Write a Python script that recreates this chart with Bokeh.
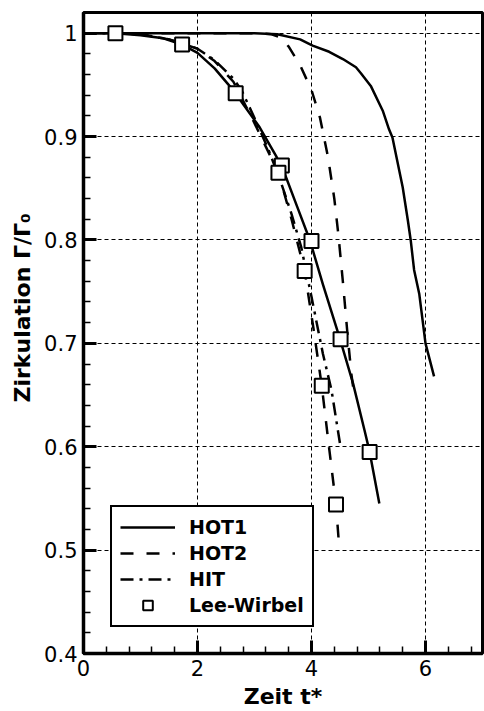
from bokeh.plotting import figure
from bokeh.models import FixedTicker, Range1d, Legend, LegendItem, Title
from bokeh.embed import file_html
from bokeh.resources import INLINE

# ---- data ----
hot1_x = [0, 0.56, 1.0, 1.4, 1.73, 2.0, 2.3, 2.67, 2.78, 3.09, 3.39, 3.53, 3.75, 3.97, 4.2, 4.49, 4.73, 4.93, 5.02, 5.19]
hot1_y = [1.0, 1.0, 0.998, 0.995, 0.989, 0.981, 0.966, 0.942, 0.933, 0.909, 0.880, 0.864, 0.832, 0.800, 0.757, 0.706, 0.661, 0.616, 0.595, 0.545]

hot1b_x = [0, 1.0, 2.0, 3.0, 3.4, 3.8, 4.02, 4.31, 4.55, 4.78, 4.87, 5.04, 5.25, 5.36, 5.42, 5.6, 5.69, 5.74, 5.80, 5.89, 6.0, 6.15]
hot1b_y = [1.0, 1.0, 1.0, 1.0, 0.999, 0.994, 0.988, 0.982, 0.975, 0.967, 0.961, 0.949, 0.925, 0.907, 0.899, 0.851, 0.819, 0.800, 0.771, 0.748, 0.700, 0.668]

hot2_x = [0, 1.0, 2.0, 3.0, 3.3, 3.45, 3.6, 3.8, 4.0, 4.15, 4.29, 4.4, 4.47, 4.55, 4.63, 4.7, 4.75]
hot2_y = [1.0, 1.0, 1.0, 1.0, 0.999, 0.996, 0.987, 0.969, 0.945, 0.918, 0.880, 0.840, 0.806, 0.760, 0.710, 0.670, 0.650]

hot2b_x = [0, 0.56, 1.0, 1.5, 2.0, 2.3, 2.63, 3.0, 3.2, 3.42, 3.65, 3.88, 4.03, 4.18, 4.3, 4.43, 4.49]
hot2b_y = [1.0, 1.0, 0.999, 0.994, 0.985, 0.973, 0.953, 0.913, 0.890, 0.865, 0.820, 0.770, 0.716, 0.659, 0.603, 0.544, 0.500]

hit_x = [0, 0.56, 1.0, 1.5, 2.0, 2.3, 2.63, 2.78, 3.0, 3.24, 3.45, 3.65, 3.82, 4.0, 4.2, 4.35, 4.5]
hit_y = [1.0, 1.0, 0.999, 0.994, 0.985, 0.974, 0.956, 0.944, 0.918, 0.888, 0.858, 0.825, 0.793, 0.745, 0.690, 0.655, 0.603]

lee_x = [0.56, 1.73, 2.67, 3.48, 3.42, 4.0, 3.88, 4.51, 4.18, 5.02, 4.43]
lee_y = [1.0, 0.989, 0.942, 0.872, 0.865, 0.799, 0.770, 0.704, 0.659, 0.595, 0.544]

x_major = [0, 2, 4, 6]
y_major = [0.4, 0.5, 0.6, 0.7, 0.8, 0.9, 1.0]
y_labels = {0.4: "0.4", 0.5: "0.5", 0.6: "0.6", 0.7: "0.7", 0.8: "0.8", 0.9: "0.9", 1.0: "1"}
legend_labels = ["HOT1", "HOT2", "HIT", "Lee-Wirbel"]
y_title = "Zirkulation  \u0393/\u0393\u2080"
x_title = "Zeit t*"

x_minor = [round(i * 0.4, 2) for i in range(0, 18)]
y_minor = [round(0.4 + i * 0.02, 3) for i in range(0, 32)]

SANS = "DejaVu Sans"

# ---- figure ----
p = figure(width=484, height=711, output_backend="svg", toolbar_location=None,
           x_range=Range1d(0, 7), y_range=Range1d(0.4, 1.02),
           min_border_left=83, min_border_right=2, min_border_top=12, min_border_bottom=57)
p.background_fill_color = "white"
p.border_fill_color = "white"
p.outline_line_color = "black"
p.outline_line_width = 3
p.outline_line_alpha = 1

for ax, maj, mnr in ((p.xaxis[0], x_major, x_minor), (p.yaxis[0], y_major, y_minor)):
    ax.ticker = FixedTicker(ticks=maj, minor_ticks=mnr)
    ax.axis_line_width = 3.5
    ax.axis_line_color = "black"
    ax.major_tick_in = 13
    ax.major_tick_out = 0
    ax.minor_tick_in = 7
    ax.minor_tick_out = 0
    ax.major_tick_line_width = 3
    ax.minor_tick_line_width = 1.5
    ax.major_tick_line_color = "black"
    ax.minor_tick_line_color = "black"
    ax.major_label_text_font = SANS
    ax.major_label_text_font_size = "21px"
    ax.major_label_text_color = "black"
    ax.major_label_standoff = 6

p.yaxis[0].major_label_overrides = y_labels
p.yaxis[0].axis_label = None
p.xaxis[0].axis_label = x_title
p.xaxis[0].axis_label_text_font = SANS
p.xaxis[0].axis_label_text_font_style = "bold"
p.xaxis[0].axis_label_text_font_size = "22px"
p.xaxis[0].axis_label_text_color = "black"
p.xaxis[0].axis_label_standoff = 5

# y label as a left-side title, anchored at its start (bottom end)
p.add_layout(Title(text=y_title, align="left", offset=251, standoff=14,
                   text_font=SANS, text_font_style="bold", text_font_size="22px",
                   text_color="black"), "left")

for g in (p.xgrid[0], p.ygrid[0]):
    g.grid_line_color = "black"
    g.grid_line_width = 1
    g.grid_line_dash = "4 3"

# ---- curves ----
r_hot1 = p.line(hot1_x, hot1_y, line_color="black", line_width=2.5, line_join="round")
p.line(hot1b_x, hot1b_y, line_color="black", line_width=2.5, line_join="round")
r_hot2 = p.line(hot2_x, hot2_y, line_color="black", line_width=2.5, line_dash="13 13")
p.line(hot2b_x, hot2b_y, line_color="black", line_width=2.5, line_dash="13 13")
r_hit = p.line(hit_x, hit_y, line_color="black", line_width=2.5, line_dash="13 6 3 6")
r_lee = p.scatter(lee_x, lee_y, marker="square", size=14, fill_color="white",
                  line_color="black", line_width=2)

legend = Legend(items=[LegendItem(label=legend_labels[0], renderers=[r_hot1]),
                       LegendItem(label=legend_labels[1], renderers=[r_hot2]),
                       LegendItem(label=legend_labels[2], renderers=[r_hit]),
                       LegendItem(label=legend_labels[3], renderers=[r_lee])],
                location=(27, 26))
legend.border_line_color = "black"
legend.border_line_width = 2.5
legend.border_line_alpha = 1
legend.background_fill_color = "white"
legend.background_fill_alpha = 1
legend.padding = 8
legend.spacing = 2
legend.margin = 0
legend.glyph_width = 55
legend.glyph_height = 24
legend.label_height = 24
legend.label_standoff = 14
legend.label_text_font = SANS
legend.label_text_font_style = "bold"
legend.label_text_font_size = "19px"
legend.label_text_color = "black"
p.add_layout(legend)

open("out.html", "w").write(file_html(p, INLINE))
